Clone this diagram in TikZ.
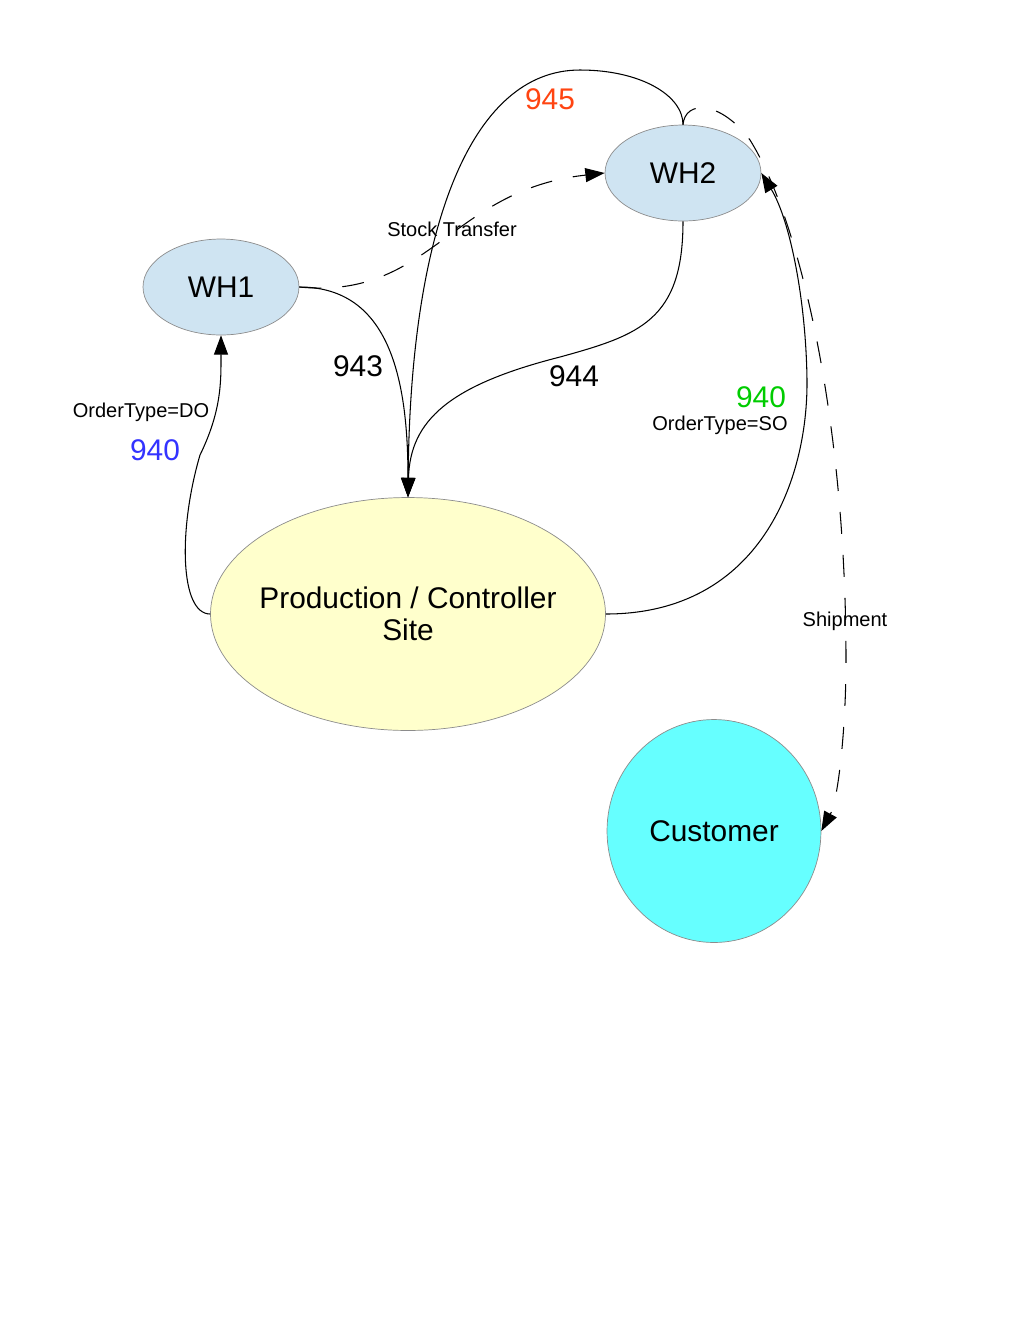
\documentclass[tikz,border=0pt]{standalone}
\usepackage{fontspec}
\setmainfont{Liberation Sans}
\usetikzlibrary{shapes.geometric,arrows.meta}
\definecolor{whblue}{HTML}{CFE4F2}
\definecolor{siteyellow}{HTML}{FFFFCC}
\definecolor{custcyan}{HTML}{66FFFF}
\definecolor{rimgray}{HTML}{8C8C8C}
\definecolor{redlbl}{HTML}{FF4411}
\definecolor{bluelbl}{HTML}{3333FF}
\definecolor{greenlbl}{HTML}{00CC00}
\newcommand{\flowbig}{\fontsize{17}{18.2}\selectfont}
\newcommand{\flowsmall}{\fontsize{11.4}{13}\selectfont}
\begin{document}
\begin{tikzpicture}[x=0.02cm,y=-0.02cm,
    warehouse/.style ={ellipse, draw=rimgray, fill=whblue, inner sep=0pt, minimum width=3.12cm, minimum height=1.92cm, font=\flowbig},
    site/.style ={ellipse, draw=rimgray, fill=siteyellow, inner ysep=0pt, inner xsep=-0.25cm, minimum width=7.9cm, minimum height=4.66cm, align=center, font=\flowbig},
    client/.style ={ellipse, draw=rimgray, fill=custcyan, inner sep=0pt, minimum width=4.28cm, minimum height=4.46cm, font=\flowbig},
    flow/.style ={line width=0.6pt, -{Triangle[length=11pt,width=8pt]}},
    transfer/.style ={flow, dash pattern=on 12.5pt off 12pt},
    biglabel/.style ={font=\flowbig, inner sep=0pt},
    smalllabel/.style ={font=\flowsmall, inner sep=0pt}]
   \useasboundingbox (0,0) rectangle (1020,1320);
   \node[warehouse] (WHone)  at (221,287)  {WH1};
   \node[warehouse] (WHtwo)  at (683,173)  {WH2};
   \node[site] (Site)  at (408,614)  {Production / Controller\\Site};
   \node[client] (Cust)  at (714,831)  {Customer};
   % stock transfer between the warehouses
   \draw[transfer] (WHone.east) .. controls (430,300) and (450,190) .. (WHtwo.west);
   % receipts at the production site
   \draw[flow] (WHone.east) .. controls (390,287) and (408,380) .. (Site.north);
   \draw[flow] (WHtwo.south) .. controls (683,320) and (640,335) .. (560,357)
      .. controls (450,385) and (410,420) .. (Site.north);
   \draw[flow] (WHtwo.north) .. controls (683,95) and (640,70) .. (580,70)
      .. controls (470,70) and (410,230) .. (Site.north);
   % orders from the production site
   \draw[flow] (Site.west) .. controls (180,614) and (178,530) .. (200,455)
      .. controls (222,410) and (221,380) .. (WHone.south);
   \draw[flow] (Site.east) .. controls (760,614) and (808,480) .. (807,380)
      .. controls (806,300) and (790,220) .. (WHtwo.east);
   % shipment to the customer
   \draw[transfer] (WHtwo.north) .. controls (685,100) and (720,100) .. (750,140)
      .. controls (800,220) and (846,420) .. (846,660)
      .. controls (846,730) and (838,800) .. (Cust.east);
   \node[smalllabel] (lblST)  at (452,229)  {Stock Transfer};
   \node[biglabel] (lblA)  at (358,366)  {943};
   \node[biglabel] (lblB)  at (574,376)  {944};
   \node[biglabel, text=redlbl] (lblC)  at (550,99)  {945};
   \node[smalllabel] (lblDO)  at (141,412)  {OrderType=DO};
   \node[biglabel, text=bluelbl] (lblD)  at (155,450)  {940};
   \node[biglabel, text=greenlbl] (lblE)  at (761,397)  {940};
   \node[smalllabel] (lblSO)  at (720,425)  {OrderType=SO};
   \node[smalllabel] (lblSH)  at (845,621)  {Shipment};
\end{tikzpicture}
\end{document}
